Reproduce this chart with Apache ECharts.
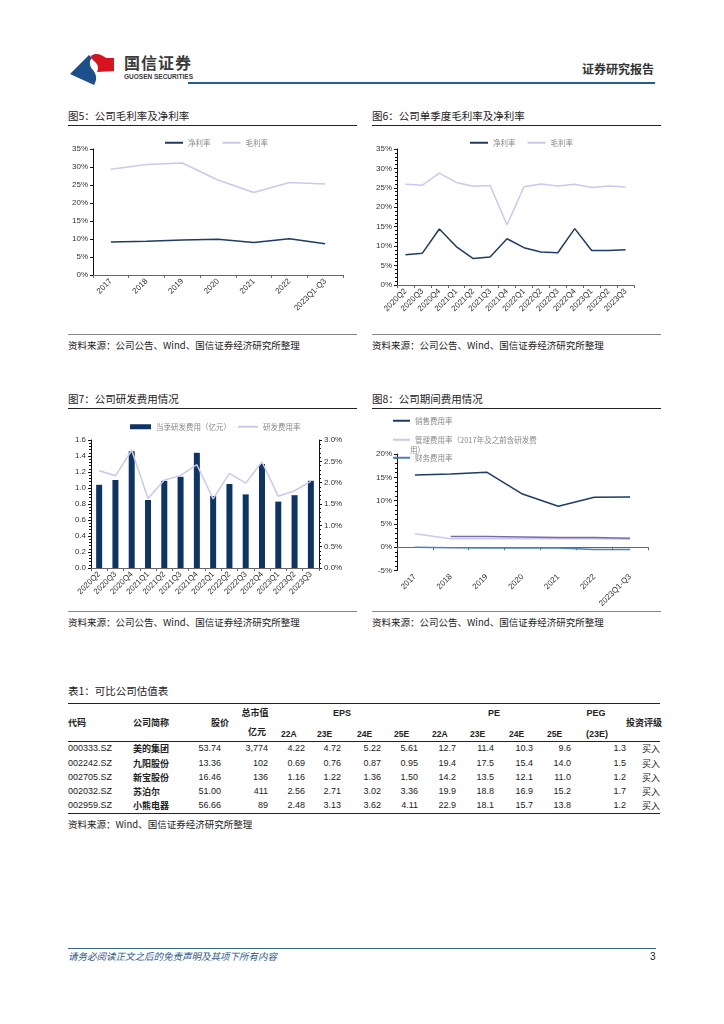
<!DOCTYPE html>
<html><head><meta charset="utf-8">
<script src="https://cdn.jsdelivr.net/npm/echarts/dist/echarts.min.js"></script>
<style>
body{margin:0;width:724px;height:1024px;background:#fff;position:relative;overflow:hidden;font-family:'Noto Sans CJK SC','Noto Sans',sans-serif;color:#222}
.t{position:absolute;white-space:nowrap;line-height:1}
.hl{position:absolute;height:0}
.ch{position:absolute}
</style></head><body>
<svg style="position:absolute;left:0;top:0" width="200" height="90">
  <path d="M89,55 L70,74 L94,85 C97,80 97,75 93,70 C89,66 89,61 92,58 Z" fill="#1d4f8a"/>
  <path d="M91,56 C96,52 102,55 106,58 L114,58 L114,71 L97,72 C99,68 98,64 94,61 C92,59 91,58 91,56 Z" fill="#d7141e"/>
</svg>
<div class="t" style="left:124px;top:54px;font-size:16px;font-weight:bold;color:#3a3a3a;letter-spacing:1px">国信证券</div>
<div class="t" style="left:124px;top:74px;font-size:6.5px;font-weight:bold;color:#3a3a3a;font-family:'Liberation Sans'">GUOSEN SECURITIES</div>
<div class="t" style="left:582px;top:63px;font-size:12px;font-weight:bold;color:#333">证券研究报告</div>
<div class="hl" style="left:188px;top:82px;width:467px;border-top:2px solid #2a5b8e"></div>

<div class="t" style="left:68px;top:111px;font-size:10.5px">图5：公司毛利率及净利率</div>
<div class="hl" style="left:68px;top:125px;width:289px;border-top:1px solid #222"></div>
<div class="t" style="left:372px;top:111px;font-size:10.5px">图6：公司单季度毛利率及净利率</div>
<div class="hl" style="left:372px;top:125px;width:289px;border-top:1px solid #222"></div>
<div class="hl" style="left:68px;top:334px;width:289px;border-top:1px solid #888"></div>
<div class="hl" style="left:372px;top:334px;width:289px;border-top:1px solid #888"></div>
<div class="t" style="left:68px;top:341px;font-size:9.5px">资料来源：公司公告、Wind、国信证券经济研究所整理</div>
<div class="t" style="left:372px;top:341px;font-size:9.5px">资料来源：公司公告、Wind、国信证券经济研究所整理</div>

<div class="t" style="left:68px;top:394px;font-size:10.5px">图7：公司研发费用情况</div>
<div class="hl" style="left:68px;top:408px;width:289px;border-top:1px solid #222"></div>
<div class="t" style="left:372px;top:394px;font-size:10.5px">图8：公司期间费用情况</div>
<div class="hl" style="left:372px;top:408px;width:289px;border-top:1px solid #222"></div>
<div class="hl" style="left:68px;top:611px;width:289px;border-top:1px solid #888"></div>
<div class="hl" style="left:372px;top:611px;width:289px;border-top:1px solid #888"></div>
<div class="t" style="left:68px;top:618px;font-size:9.5px">资料来源：公司公告、Wind、国信证券经济研究所整理</div>
<div class="t" style="left:372px;top:618px;font-size:9.5px">资料来源：公司公告、Wind、国信证券经济研究所整理</div>

<div id="c5" class="ch" style="left:60px;top:128px;width:300px;height:205px"></div>
<div id="c6" class="ch" style="left:365px;top:128px;width:300px;height:205px"></div>
<div id="c7" class="ch" style="left:60px;top:410px;width:300px;height:200px"></div>
<div id="c8" class="ch" style="left:365px;top:410px;width:300px;height:200px"></div>

<div class="t" style="left:68px;top:686px;font-size:10.5px">表1：可比公司估值表</div>
<div id="tbl"></div>
<div class="t" style="left:68px;top:820px;font-size:9.5px">资料来源：Wind、国信证券经济研究所整理</div>

<div class="hl" style="left:68px;top:948px;width:588px;border-top:1px solid #3b6699"></div>
<div class="t" style="left:68px;top:952px;font-size:9.5px;font-style:italic;color:#2e5a8c">请务必阅读正文之后的免责声明及其项下所有内容</div>
<div class="t" style="left:650px;top:952px;font-size:10px;color:#222;font-family:'Liberation Sans'">3</div>

<script>
// ---------- data ----------
const yearCats = ['2017','2018','2019','2020','2021','2022','2023Q1-Q3'];
const grossAnnual = [29.4,30.7,31.1,26.4,22.9,25.7,25.3];
const netAnnual = [9.2,9.4,9.7,9.9,9.0,10.1,8.7];

const quarterCats = ['2020Q2','2020Q3','2020Q4','2021Q1','2021Q2','2021Q3','2021Q4','2022Q1','2022Q2','2022Q3','2022Q4','2023Q1','2023Q2','2023Q3'];
const grossQ = [25.9,25.7,28.8,26.4,25.4,25.6,15.5,25.3,26.0,25.5,25.9,25.1,25.5,25.2];
const netQ = [7.8,8.2,14.4,9.9,6.8,7.2,11.9,9.6,8.5,8.3,14.5,8.9,8.9,9.1];

const rdExpense = [1.04,1.10,1.46,0.85,1.09,1.14,1.44,0.90,1.05,0.92,1.30,0.83,0.91,1.09];
const rdRate = [2.28,2.16,2.76,1.63,2.06,2.17,2.42,1.62,2.22,1.99,2.49,1.68,1.81,2.03];

const salesRate = [15.5,15.7,16.1,11.4,8.8,10.7,10.75];
const mgmtRate = [2.9,1.8,1.8,1.8,1.8,1.8,1.7];
const rdRateAnnual = [null,2.3,2.3,2.2,2.1,2.1,1.9];
const finRate = [0,-0.1,-0.2,-0.2,-0.2,-0.5,-0.5];

const tCodes = ['000333.SZ','002242.SZ','002705.SZ','002032.SZ','002959.SZ'];
const tNames = ['美的集团','九阳股份','新宝股份','苏泊尔','小熊电器'];
const tPrice = ['53.74','13.36','16.46','51.00','56.66'];
const tCap = ['3,774','102','136','411','89'];
const tEps = [['4.22','4.72','5.22','5.61'],['0.69','0.76','0.87','0.95'],['1.16','1.22','1.36','1.50'],['2.56','2.71','3.02','3.36'],['2.48','3.13','3.62','4.11']];
const tPe = [['12.7','11.4','10.3','9.6'],['19.4','17.5','15.4','14.0'],['14.2','13.5','12.1','11.0'],['19.9','18.8','16.9','15.2'],['22.9','18.1','15.7','13.8']];
const tPeg = ['1.3','1.5','1.2','1.7','1.2'];
const tRating = ['买入','买入','买入','买入','买入'];
const subHeads = ['22A','23E','24E','25E'];

// ---------- charts ----------
const NAVY = '#1f3b63', LAV = '#c9c9ee';
const lblFont = {fontSize:8,color:'#333',fontFamily:'Liberation Sans'};
const legText = {fontSize:7.5,color:'#888',fontFamily:'Noto Sans CJK SC'};
function catAxis(cats){
  return {type:'category',data:cats,boundaryGap:true,
    axisLine:{lineStyle:{color:'#666',width:1}},
    axisTick:{show:true,length:3,lineStyle:{color:'#666'}},
    axisLabel:Object.assign({rotate:45,margin:5,interval:0},lblFont)};
}
function valAxis(min,max,interval,fmt,extra){
  return Object.assign({type:'value',min:min,max:max,interval:interval,
    axisLine:{show:true,lineStyle:{color:'#111'}},
    axisTick:{show:true,length:3,lineStyle:{color:'#111'}},
    minorTick:{show:true,splitNumber:5,length:2,lineStyle:{color:'#111'}},
    splitLine:{show:false},
    axisLabel:Object.assign({formatter:fmt,margin:5},lblFont)},extra||{});
}
function lineSeries(name,data,color,w){
  return {name:name,type:'line',data:data,symbol:'none',lineStyle:{color:color,width:w||1.5},itemStyle:{color:color},connectNulls:false};
}
const pctFmt = v => v + '%';

echarts.init(document.getElementById('c5')).setOption({
  animation:false,
  legend:{left:100,top:6,icon:'rect',itemWidth:18,itemHeight:2,itemGap:12,textStyle:legText,data:['净利率','毛利率']},
  grid:{left:33,right:17,top:21,bottom:58},
  xAxis:catAxis(yearCats),
  yAxis:valAxis(0,35,5,pctFmt,{minorTick:{show:false}}),
  series:[lineSeries('净利率',netAnnual,NAVY,1.5),lineSeries('毛利率',grossAnnual,LAV,1.5)]
});

echarts.init(document.getElementById('c6')).setOption({
  animation:false,
  legend:{left:100,top:6,icon:'rect',itemWidth:18,itemHeight:2,itemGap:12,textStyle:legText,data:['净利率','毛利率']},
  grid:{left:32,right:31,top:21,bottom:48},
  xAxis:catAxis(quarterCats),
  yAxis:valAxis(0,35,5,pctFmt),
  series:[lineSeries('净利率',netQ,NAVY,1.5),lineSeries('毛利率',grossQ,LAV,1.5)]
});

echarts.init(document.getElementById('c7')).setOption({
  animation:false,
  legend:[
    {left:65,top:8,itemWidth:21,itemHeight:5,textStyle:legText,data:[{name:'当季研发费用（亿元）',icon:'rect'}]},
    {left:173,top:8,itemWidth:20,itemHeight:2,textStyle:legText,data:[{name:'研发费用率',icon:'rect'}]}
  ],
  grid:{left:31,right:41,top:30,bottom:42},
  xAxis:catAxis(quarterCats),
  yAxis:[
    valAxis(0,1.6,0.2,v=>v.toFixed(1)),
    valAxis(0,3,0.5,v=>v.toFixed(1)+'%',{position:'right'})
  ],
  series:[
    {name:'当季研发费用（亿元）',type:'bar',data:rdExpense,barWidth:6,itemStyle:{color:'#0d3465'}},
    Object.assign(lineSeries('研发费用率',rdRate,LAV,1.5),{yAxisIndex:1})
  ]
});

const MGMT_NAME = '管理费用率（2017年及之前含研发费用）';
echarts.init(document.getElementById('c8')).setOption({
  animation:false,
  legend:[
    {left:23,top:2,icon:'rect',itemWidth:17,itemHeight:2,textStyle:legText,data:['销售费用率']},
    {left:23,top:21,icon:'rect',itemWidth:17,itemHeight:2,textStyle:legText,data:[MGMT_NAME],formatter:()=>'管理费用率（2017年及之前含研发费'},
    {left:23,top:39,icon:'rect',itemWidth:17,itemHeight:2,textStyle:legText,data:['财务费用率']}
  ],
  graphic:[{type:'text',left:45,top:36,style:{text:'用）',fontSize:7.5,fill:'#888',fontFamily:'Noto Sans CJK SC'}}],
  grid:{left:32,right:17,top:44,bottom:23},
  xAxis:catAxis(yearCats),
  yAxis:valAxis(-5,20,5,pctFmt),
  series:[
    lineSeries('销售费用率',salesRate,NAVY,1.5),
    lineSeries(MGMT_NAME,mgmtRate,LAV,1.5),
    lineSeries('研发费用率',rdRateAnnual,'#7a6aa8',1.5),
    lineSeries('财务费用率',finRate,'#4f7fbf',1.5)
  ]
});

// ---------- table ----------
(function(){
  const tb = document.getElementById('tbl');
  function txt(s,x,y,opt){
    opt = opt||{};
    const d = document.createElement('div');
    d.className='t';
    d.textContent = s;
    d.style.fontSize = (opt.fs||9)+'px';
    if(opt.bold) d.style.fontWeight='bold';
    d.style.top = (y - (opt.fs||9)/2 - 1)+'px';
    if(opt.align==='right'){ d.style.right = (724 - x)+'px'; }
    else if(opt.align==='center'){ d.style.left = (x-60)+'px'; d.style.width='120px'; d.style.textAlign='center'; }
    else d.style.left = x+'px';
    if(opt.ff) d.style.fontFamily = opt.ff;
    tb.appendChild(d);
  }
  function line(y,w){
    const d=document.createElement('div');d.className='hl';
    d.style.left='68px';d.style.width='592px';d.style.top=y+'px';d.style.borderTop=w+'px solid #222';tb.appendChild(d);
  }
  line(703,1.5); line(741,1); line(813,1.5);
  const H = {bold:true};
  txt('代码',68,723,H); txt('公司简称',133,723,H); txt('股价',211,723,H);
  txt('总市值',255,713,{bold:true,align:'center'}); txt('亿元',257,732,{bold:true,align:'center'});
  txt('EPS',342,714,{bold:true,align:'center',ff:'Liberation Sans'});
  txt('PE',494,714,{bold:true,align:'center',ff:'Liberation Sans'});
  txt('PEG',596,714,{bold:true,align:'center',ff:'Liberation Sans'});
  txt('(23E)',597,735,{bold:true,align:'center',ff:'Liberation Sans'});
  txt('投资评级',626,723,H);
  const epsR=[305,341,381,418], peR=[456,494,533,571];
  subHeads.forEach((h,i)=>{
    txt(h,epsR[i]-24,735,{bold:true,ff:'Liberation Sans',fs:8.5});
    txt(h,peR[i]-24,735,{bold:true,ff:'Liberation Sans',fs:8.5});
  });
  const rowY=[749,764,778,792,806];
  const NF='Liberation Sans';
  tCodes.forEach((c,r)=>{
    const y=rowY[r];
    txt(c,68,y,{ff:NF});
    txt(tNames[r],133,y,{bold:true});
    txt(tPrice[r],221,y,{align:'right',ff:NF});
    txt(tCap[r],268,y,{align:'right',ff:NF});
    tEps[r].forEach((v,i)=>txt(v,epsR[i],y,{align:'right',ff:NF}));
    tPe[r].forEach((v,i)=>txt(v,peR[i],y,{align:'right',ff:NF}));
    txt(tPeg[r],626,y,{align:'right',ff:NF});
    txt(tRating[r],660,y,{align:'right'});
  });
})();
</script>
</body></html>
